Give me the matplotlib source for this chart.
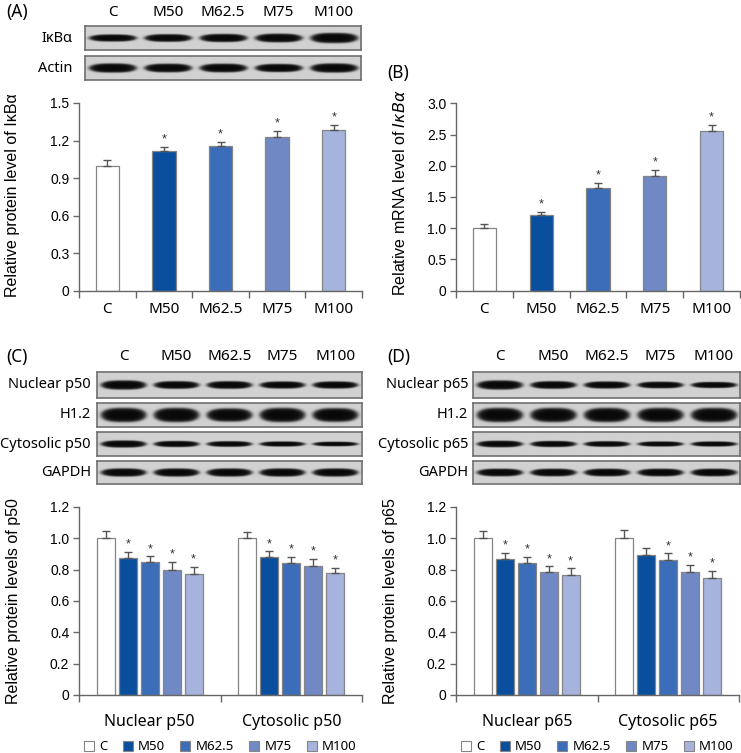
import numpy as np
import matplotlib
matplotlib.use('Agg')
import matplotlib.pyplot as plt
from matplotlib.patches import Patch

W, H = 741, 753

groups = ['C', 'M50', 'M62.5', 'M75', 'M100']
colors = ['#ffffff', '#0a4f9e', '#3b6db8', '#7089c4', '#a5b3dd']

# panel A: IkBa protein
a_mean = [1.00, 1.115, 1.157, 1.227, 1.287]
a_err = [0.043, 0.037, 0.035, 0.047, 0.040]
a_sig = [False, True, True, True, True]

# panel B: IkBa mRNA
b_mean = [1.00, 1.21, 1.64, 1.84, 2.55]
b_err = [0.06, 0.055, 0.08, 0.10, 0.10]
b_sig = [False, True, True, True, True]

# panel C: p50
c_sets = ['Nuclear p50', 'Cytosolic p50']
c_mean = [[1.00, 0.872, 0.847, 0.800, 0.772],
          [1.00, 0.881, 0.843, 0.823, 0.777]]
c_err = [[0.047, 0.039, 0.038, 0.047, 0.043],
         [0.038, 0.036, 0.036, 0.045, 0.035]]
c_sig = [[False, True, True, True, True],
         [False, True, True, True, True]]

# panel D: p65
d_sets = ['Nuclear p65', 'Cytosolic p65']
d_mean = [[1.00, 0.868, 0.843, 0.785, 0.764],
          [1.00, 0.893, 0.860, 0.785, 0.747]]
d_err = [[0.045, 0.040, 0.038, 0.036, 0.044],
         [0.051, 0.043, 0.044, 0.045, 0.043]]
d_sig = [[False, True, True, True, True],
         [False, False, True, True, True]]

# western blot rows: label and band thickness (px) per lane
blot_a_names = ['IκBα', 'Actin']
blot_a_bands = [[7, 7.5, 8, 8.5, 10], [9, 8.5, 8.5, 8, 9]]
blot_c_names = ['Nuclear p50', 'H1.2', 'Cytosolic p50', 'GAPDH']
blot_c_bands = [[9, 7.5, 7.5, 7, 7], [14, 14, 13, 14, 13.5],
                [7, 6, 5.5, 5, 4.5], [8, 8, 8, 8, 8]]
blot_d_names = ['Nuclear p65', 'H1.2', 'Cytosolic p65', 'GAPDH']
blot_d_bands = [[9, 7.5, 7, 6.5, 6], [14, 14, 14, 14, 14],
                [6.5, 6, 5.5, 5, 5], [7.5, 7.5, 7.5, 7.5, 7.5]]

SANS = ['Noto Sans', 'DejaVu Sans']
NUM = ['Liberation Sans', 'DejaVu Sans']
AX = '#666666'

plt.rcParams['font.family'] = NUM

fig = plt.figure(figsize=(W / 100, H / 100), dpi=100)


def rect(x0, y0, x1, y1):
  return [x0 / W, 1 - y1 / H, (x1 - x0) / W, (y1 - y0) / H]


def ftext(x, y, s, **kw):
  return fig.text(x / W, 1 - y / H, s, **kw)


def draw_blot(x0, x1, rows, names, bands, label_x):
  for (y0, y1), name, thick in zip(rows, names, bands):
    ax = fig.add_axes(rect(x0, y0, x1, y1))
    bw, bh = x1 - x0, y1 - y0
    xx, yy = np.meshgrid(np.linspace(0, bw, int(bw * 3)), np.linspace(0, bh, int(bh * 3)))
    lane = bw / 5
    dark = np.zeros_like(xx)
    for i, t in enumerate(thick):
      cx = (i + 0.5) * lane
      cy = bh / 2
      d = np.abs((xx - cx) / (lane * 0.42)) ** 3 + ((yy - cy) / (t / 2)) ** 2
      v = 1 / (1 + np.exp((d - 1) * 5))
      dark = np.maximum(dark, v)
    bg = 0.82
    img = bg * (1 - dark) + 0.03 * dark
    ax.imshow(img, cmap='gray', vmin=0, vmax=1, aspect='auto', interpolation='bilinear')
    ax.set_xticks([])
    ax.set_yticks([])
    for s in ax.spines.values():
      s.set_color('#707070')
      s.set_linewidth(1.2)
    ftext(label_x, (y0 + y1) / 2, name, ha='right', va='center', fontsize=10.5, family=SANS)


def lane_labels(x0, x1, y):
  lane = (x1 - x0) / 5
  for i, g in enumerate(groups):
    ftext(x0 + (i + 0.5) * lane, y, g, ha='center', va='center', fontsize=11, family=SANS)


def style_axes(ax, ymax, yticks, ylabels):
  ax.set_ylim(0, ymax)
  ax.set_yticks(yticks)
  ax.set_yticklabels(ylabels, fontsize=10)
  for s in ['top', 'right']:
    ax.spines[s].set_visible(False)
  for s in ['left', 'bottom']:
    ax.spines[s].set_color(AX)
    ax.spines[s].set_linewidth(1)
  ax.tick_params(axis='y', length=4, width=1, color=AX, pad=3)
  ax.tick_params(axis='x', which='major', length=5, width=1, color=AX, labelbottom=False)
  ax.tick_params(axis='x', which='minor', length=0)


def bars(ax, x, mean, err, sig, width):
  ax.bar(x, mean, width, color=colors, edgecolor='#858585', linewidth=0.9, zorder=2)
  ax.errorbar(x, mean, yerr=[np.zeros(len(err)), err], fmt='none', ecolor='#555555',
              elinewidth=1, capsize=3, capthick=1, zorder=3)
  for xi, m, e, s in zip(x, mean, err, sig):
    if s:
      ax.annotate('*', (xi, m + e), xytext=(0, 1), textcoords='offset points',
                  ha='center', va='bottom', fontsize=9, color='#333333')


# ---------- panel A ----------
ftext(6, 12, '(A)', ha='left', va='center', fontsize=12.5, family=SANS)
lane_labels(85, 361, 12)
draw_blot(85, 361, [(26, 50), (56, 80)], blot_a_names, blot_a_bands, 72)

axA = fig.add_axes(rect(79, 103, 362, 291))
xa = np.arange(5)
bars(axA, xa, a_mean, a_err, a_sig, 0.41)
axA.set_xlim(-0.5, 4.5)
style_axes(axA, 1.5, [0, 0.3, 0.6, 0.9, 1.2, 1.5], ['0', '0.3', '0.6', '0.9', '1.2', '1.5'])
axA.set_xticks(np.arange(-0.5, 5, 1))
axA.set_xticks(xa, minor=True)
axA.set_xticklabels(groups, minor=True, fontsize=11, family=SANS)
axA.tick_params(axis='x', which='minor', pad=8)
ftext(13, 195, 'Relative protein level of IκBα', rotation=90, ha='center', va='center', fontsize=11.5)

# ---------- panel B ----------
ftext(387, 73, '(B)', ha='left', va='center', fontsize=12.5, family=SANS)
axB = fig.add_axes(rect(456, 103.3, 740, 290.7))
bars(axB, xa, b_mean, b_err, b_sig, 0.41)
axB.set_xlim(-0.5, 4.5)
style_axes(axB, 3.0, [0, 0.5, 1.0, 1.5, 2.0, 2.5, 3.0],
           ['0', '0.5', '1.0', '1.5', '2.0', '2.5', '3.0'])
axB.set_xticks(np.arange(-0.5, 5, 1))
axB.set_xticks(xa, minor=True)
axB.set_xticklabels(groups, minor=True, fontsize=11, family=SANS)
axB.tick_params(axis='x', which='minor', pad=8)
ftext(400, 193, r'Relative mRNA level of $I\kappa B\alpha$', rotation=90, ha='center',
      va='center', fontsize=11.5)

# ---------- panels C and D ----------
rows_cd = [(372, 398), (403, 427), (432, 456), (461, 484)]
ftext(6, 357, '(C)', ha='left', va='center', fontsize=12.5, family=SANS)
lane_labels(97, 362, 357)
draw_blot(97, 362, rows_cd, blot_c_names, blot_c_bands, 91)

ftext(387, 357, '(D)', ha='left', va='center', fontsize=12.5, family=SANS)
lane_labels(473, 740, 357)
draw_blot(473, 740, rows_cd, blot_d_names, blot_d_bands, 468)

step, bwid = 0.155, 0.127
offs = (np.arange(5) - 2) * step
yt = [0, 0.2, 0.4, 0.6, 0.8, 1.0, 1.2]
ytl = ['0', '0.2', '0.4', '0.6', '0.8', '1.0', '1.2']

panels = [(79, 362, c_sets, c_mean, c_err, c_sig, 'Relative protein levels of p50', 14),
          (456, 739, d_sets, d_mean, d_err, d_sig, 'Relative protein levels of p65', 391)]
for x0, x1, sets, means, errs, sigs, ylab, lx in panels:
  ax = fig.add_axes(rect(x0, 507, x1, 695))
  for gi in range(2):
    bars(ax, gi + offs, means[gi], errs[gi], sigs[gi], bwid)
  ax.set_xlim(-0.5, 1.5)
  style_axes(ax, 1.2, yt, ytl)
  ax.set_xticks([-0.5, 0.5, 1.5])
  ax.set_xticks([0, 1], minor=True)
  ax.set_xticklabels(sets, minor=True, fontsize=11.5, family=SANS)
  ax.tick_params(axis='x', which='minor', pad=14)
  ftext(lx, 601, ylab, rotation=90, ha='center', va='center', fontsize=11.5)
  handles = [Patch(facecolor=c, edgecolor='#858585', linewidth=0.8) for c in colors]
  fig.legend(handles, groups, loc='center', bbox_to_anchor=((x0 + x1) / 2 / W, 1 - 747 / H),
             ncol=5, frameon=False, handlelength=0.75, handleheight=0.75,
             handletextpad=0.4, columnspacing=1.15, borderaxespad=0, borderpad=0,
             prop={'family': SANS, 'size': 9.5})

fig.savefig('out.png', dpi=100)
